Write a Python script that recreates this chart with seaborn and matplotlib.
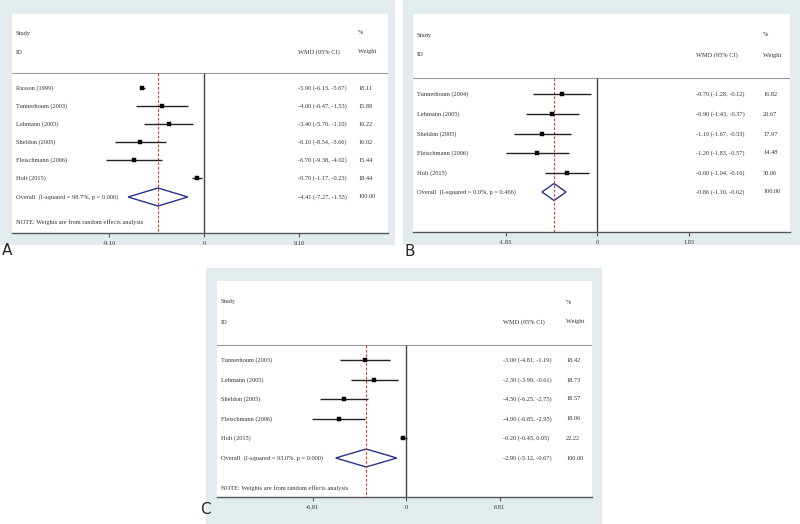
import matplotlib
matplotlib.use("Agg")
import matplotlib.pyplot as plt
from matplotlib.patches import Rectangle
import seaborn as sns
import pandas as pd

sns.set_style("white")
plt.rcParams['font.family'] = ['Liberation Serif', 'DejaVu Serif']

# ---------------- data ----------------
studies_a = ["Russon (1999)", "Tunnerhoum (2003)", "Lehmann (2005)", "Sheldon (2005)",
             "Fleischmann (2006)", "Holt (2015)"]
est_a = [-5.90, -4.00, -3.40, -6.10, -6.70, -0.70]
lo_a = [-6.13, -6.47, -5.70, -8.54, -9.38, -1.17]
hi_a = [-5.67, -1.53, -1.10, -3.66, -4.02, -0.23]
wt_a = ["18.11", "15.88", "16.22", "16.02", "15.44", "18.44"]
overall_a = [-4.41, -7.27, -1.55]
overall_lbl_a = "Overall  (I-squared = 98.7%, p = 0.000)"
ticks_a = [-9.10, 0, 9.10]
ticklabels_a = ["-9.10", "0", "9.10"]

studies_b = ["Tunnerhoum (2004)", "Lehmann (2005)", "Sheldon (2005)",
             "Fleischmann (2006)", "Holt (2015)"]
est_b = [-0.70, -0.90, -1.10, -1.20, -0.60]
lo_b = [-1.28, -1.43, -1.67, -1.83, -1.04]
hi_b = [-0.12, -0.37, -0.53, -0.57, -0.16]
wt_b = ["16.82", "20.67", "17.97", "14.48", "30.06"]
overall_b = [-0.86, -1.10, -0.62]
overall_lbl_b = "Overall  (I-squared = 0.0%, p = 0.466)"
ticks_b = [-1.83, 0, 1.83]
ticklabels_b = ["-1.83", "0", "1.83"]

studies_c = ["Tunnerhoum (2003)", "Lehmann (2005)", "Sheldon (2005)",
             "Fleischmann (2006)", "Holt (2015)"]
est_c = [-3.00, -2.30, -4.50, -4.90, -0.20]
lo_c = [-4.81, -3.99, -6.25, -6.85, -0.45]
hi_c = [-1.19, -0.61, -2.75, -2.95, 0.05]
wt_c = ["18.42", "18.73", "18.57", "18.06", "22.22"]
overall_c = [-2.90, -5.12, -0.67]
overall_lbl_c = "Overall  (I-squared = 93.0%, p = 0.000)"
ticks_c = [-6.81, 0, 6.81]
ticklabels_c = ["-6.81", "0", "6.81"]

note = "NOTE: Weights are from random effects analysis"

# ---------------- figure ----------------
W, H = 800, 524
fig = plt.figure(figsize=(W / 100, H / 100), dpi=100)
fig.patch.set_facecolor("white")
BLUE = "#e2ecef"
FS = 4.6
TXT = "#333333"


def outer(x0, y0, x1, y1):
    fig.patches.append(Rectangle((x0 / W, 1 - y1 / H), (x1 - x0) / W, (y1 - y0) / H,
                                 transform=fig.transFigure, facecolor=BLUE,
                                 edgecolor="none", zorder=-5))


def ftext(px, py, s, **kw):
    fig.text(px / W, 1 - py / H, s, fontsize=FS, color=TXT, va="center", ha="left",
             zorder=5, **kw)


def panel(box, zero_px, unit_px, studies, est, lo, hi, wt, overall, overall_lbl,
          ticks, ticklabels, rows_y, overall_y, header_y, study_y, id_y,
          col_x, wt_x, note_y=None, dh=8.5):
    x0, y0, x1, y1 = box
    ax = fig.add_axes([x0 / W, 1 - y1 / H, (x1 - x0) / W, (y1 - y0) / H])
    ax.set_zorder(1)
    ax.set_facecolor("white")
    ax.set_xlim((x0 - zero_px) / unit_px, (x1 - zero_px) / unit_px)
    for s in ["top", "left", "right"]:
        ax.spines[s].set_visible(False)
    ax.spines["bottom"].set_color("#555555")
    ax.spines["bottom"].set_linewidth(1.0)

    ax.axhline(header_y, color="#9a9a9a", lw=0.8)
    ax.vlines(0, header_y, y1, color="#444444", lw=1.0)
    ax.vlines(overall[0], header_y, y1, color="#d4452e", lw=0.8, linestyles=(0, (2.5, 1.5)))

    df = pd.DataFrame({"est": est, "lo": lo, "hi": hi, "y": rows_y[:len(est)]})
    ax.hlines(df["y"], df["lo"], df["hi"], color="#222222", lw=1.0)
    sns.scatterplot(data=df, x="est", y="y", marker="s", s=10, color="black",
                    edgecolor="black", linewidth=0.3, ax=ax, legend=False, zorder=3)
    e, l, h = overall
    ax.fill([l, e, h, e, l], [overall_y, overall_y - dh, overall_y, overall_y + dh, overall_y],
            facecolor="none", edgecolor="#27338a", lw=1.0)

    ax.set_ylim(y1, y0)
    ax.set_xlim((x0 - zero_px) / unit_px, (x1 - zero_px) / unit_px)
    ax.set_yticks([])
    ax.set_xticks(ticks)
    ax.set_xticklabels(ticklabels, fontsize=FS, color=TXT)
    ax.tick_params(axis="x", direction="out", length=3, width=0.8, color="#555555", pad=3,
                   bottom=True)
    ax.set_xlabel("")
    ax.set_ylabel("")

    lx = x0 + 4
    ftext(lx, study_y, "Study")
    ftext(lx, id_y, "ID")
    ftext(col_x, id_y, "WMD (95% CI)")
    ftext(wt_x, study_y, "%")
    ftext(wt_x, id_y, "Weight")
    for name, e_, l_, h_, w_, ry in zip(studies, est, lo, hi, wt, rows_y):
        ftext(lx, ry, name)
        ftext(col_x, ry, f"{e_:.2f} ({l_:.2f}, {h_:.2f})")
        ftext(wt_x, ry, w_)
    ftext(lx, overall_y, overall_lbl)
    ftext(col_x, overall_y, f"{e:.2f} ({l:.2f}, {h:.2f})")
    ftext(wt_x, overall_y, "100.00")
    if note_y is not None:
        ftext(lx, note_y, note)
    return ax


# outer frames
outer(0, 0, 395, 245)
outer(403, 0, 800, 245)
outer(206, 268, 602, 524)

# Panel A
panel((12, 14, 388, 233), 204, 95 / 9.10, studies_a, est_a, lo_a, hi_a, wt_a,
      overall_a, overall_lbl_a, ticks_a, ticklabels_a,
      rows_y=[88, 106, 124, 142, 160, 178], overall_y=197, header_y=73,
      study_y=33, id_y=52, col_x=298, wt_x=358, note_y=222, dh=9)

# Panel B
panel((413, 14, 790, 232), 597, 91.5 / 1.83, studies_b, est_b, lo_b, hi_b, wt_b,
      overall_b, overall_lbl_b, ticks_b, ticklabels_b,
      rows_y=[94, 114, 134, 153, 173], overall_y=192, header_y=78,
      study_y=35, id_y=55, col_x=696, wt_x=763, note_y=None, dh=8.5)

# Panel C
panel((217, 281, 592, 497), 406, 93.5 / 6.81, studies_c, est_c, lo_c, hi_c, wt_c,
      overall_c, overall_lbl_c, ticks_c, ticklabels_c,
      rows_y=[360, 380, 399, 419, 438], overall_y=458, header_y=345,
      study_y=302, id_y=322, col_x=503, wt_x=566, note_y=488, dh=9)

# panel letters
fig.text(7 / W, 1 - 251 / H, "A", fontsize=11, family="DejaVu Sans", ha="center", va="center")
fig.text(410 / W, 1 - 252 / H, "B", fontsize=11, family="DejaVu Sans", ha="center", va="center")
fig.text(205 / W, 1 - 510 / H, "C", fontsize=11, family="DejaVu Sans", ha="center", va="center")

fig.savefig("out.png", dpi=100)
